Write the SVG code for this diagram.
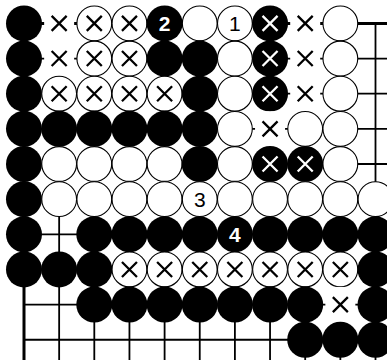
<svg xmlns="http://www.w3.org/2000/svg" xmlns:xlink="http://www.w3.org/1999/xlink" width="387" height="360" viewBox="0 0 387 360">
<style>
.thin{stroke:#000;stroke-width:1.8;fill:none}
.edge{stroke:#000;stroke-width:3;fill:none}
.bs{fill:#000}
.ws{fill:#fff;stroke:#000;stroke-width:1.1}
.es{fill:#fff}
.xb{stroke:#000;stroke-width:2.3;fill:none}
.xw{stroke:#fff;stroke-width:2.3;fill:none}
.nb{font-family:"Liberation Sans",Arial,sans-serif;font-size:21px;fill:#000;text-anchor:middle}
.nw{font-family:"Liberation Sans",Arial,sans-serif;font-size:21px;font-weight:bold;fill:#fff;text-anchor:middle}
</style>
<defs>
<circle id="b" class="bs" r="18"/>
<circle id="w" class="ws" r="17.4"/>
<rect id="e" class="es" x="-15" y="-17.7" width="30" height="35.4"/>
<path id="x" d="M-7.5,-7.5L7.5,7.5M7.5,-7.5L-7.5,7.5"/>
</defs>
<rect width="387" height="360" fill="#fff"/>
<g id="grid">
<path class="thin" d="M24,58.55H387M24,93.7H387M24,128.85H387M24,164H387M24,199.15H387M24,234.3H387M24,269.45H387M24,304.6H387M24,339.75H387"/>
<path class="thin" d="M59.15,23.4V360M94.3,23.4V360M129.45,23.4V360M164.6,23.4V360M199.75,23.4V360M234.9,23.4V360M270.05,23.4V360M305.2,23.4V360M340.35,23.4V360M375.5,23.4V360"/>
<path class="edge" d="M387,23.4H24V360"/>
</g>
<!-- row 0 -->
<g id="r0c0" transform="translate(24,23.4)"><use xlink:href="#b"/></g>
<g id="r0c1" transform="translate(59.15,23.4)"><use xlink:href="#e"/><use xlink:href="#x" class="xb"/></g>
<g id="r0c2" transform="translate(94.3,23.4)"><use xlink:href="#w"/><use xlink:href="#x" class="xb"/></g>
<g id="r0c3" transform="translate(129.45,23.4)"><use xlink:href="#w"/><use xlink:href="#x" class="xb"/></g>
<g id="r0c4" transform="translate(164.6,23.4)"><use xlink:href="#b"/><text class="nw" x="0" y="7.5">2</text></g>
<g id="r0c5" transform="translate(199.75,23.4)"><use xlink:href="#w"/></g>
<g id="r0c6" transform="translate(234.9,23.4)"><use xlink:href="#w"/><text class="nb" x="0" y="7.5">1</text></g>
<g id="r0c7" transform="translate(270.05,23.4)"><use xlink:href="#b"/><use xlink:href="#x" class="xw"/></g>
<g id="r0c8" transform="translate(305.2,23.4)"><use xlink:href="#e"/><use xlink:href="#x" class="xb"/></g>
<g id="r0c9" transform="translate(340.35,23.4)"><use xlink:href="#w"/></g>
<!-- row 1 -->
<g id="r1c0" transform="translate(24,58.55)"><use xlink:href="#b"/></g>
<g id="r1c1" transform="translate(59.15,58.55)"><use xlink:href="#e"/><use xlink:href="#x" class="xb"/></g>
<g id="r1c2" transform="translate(94.3,58.55)"><use xlink:href="#w"/><use xlink:href="#x" class="xb"/></g>
<g id="r1c3" transform="translate(129.45,58.55)"><use xlink:href="#w"/><use xlink:href="#x" class="xb"/></g>
<g id="r1c4" transform="translate(164.6,58.55)"><use xlink:href="#b"/></g>
<g id="r1c5" transform="translate(199.75,58.55)"><use xlink:href="#b"/></g>
<g id="r1c6" transform="translate(234.9,58.55)"><use xlink:href="#w"/></g>
<g id="r1c7" transform="translate(270.05,58.55)"><use xlink:href="#b"/><use xlink:href="#x" class="xw"/></g>
<g id="r1c8" transform="translate(305.2,58.55)"><use xlink:href="#e"/><use xlink:href="#x" class="xb"/></g>
<g id="r1c9" transform="translate(340.35,58.55)"><use xlink:href="#w"/></g>
<!-- row 2 -->
<g id="r2c0" transform="translate(24,93.7)"><use xlink:href="#b"/></g>
<g id="r2c1" transform="translate(59.15,93.7)"><use xlink:href="#w"/><use xlink:href="#x" class="xb"/></g>
<g id="r2c2" transform="translate(94.3,93.7)"><use xlink:href="#w"/><use xlink:href="#x" class="xb"/></g>
<g id="r2c3" transform="translate(129.45,93.7)"><use xlink:href="#w"/><use xlink:href="#x" class="xb"/></g>
<g id="r2c4" transform="translate(164.6,93.7)"><use xlink:href="#w"/><use xlink:href="#x" class="xb"/></g>
<g id="r2c5" transform="translate(199.75,93.7)"><use xlink:href="#b"/></g>
<g id="r2c6" transform="translate(234.9,93.7)"><use xlink:href="#w"/></g>
<g id="r2c7" transform="translate(270.05,93.7)"><use xlink:href="#b"/><use xlink:href="#x" class="xw"/></g>
<g id="r2c8" transform="translate(305.2,93.7)"><use xlink:href="#e"/><use xlink:href="#x" class="xb"/></g>
<g id="r2c9" transform="translate(340.35,93.7)"><use xlink:href="#w"/></g>
<!-- row 3 -->
<g id="r3c0" transform="translate(24,128.85)"><use xlink:href="#b"/></g>
<g id="r3c1" transform="translate(59.15,128.85)"><use xlink:href="#b"/></g>
<g id="r3c2" transform="translate(94.3,128.85)"><use xlink:href="#b"/></g>
<g id="r3c3" transform="translate(129.45,128.85)"><use xlink:href="#b"/></g>
<g id="r3c4" transform="translate(164.6,128.85)"><use xlink:href="#b"/></g>
<g id="r3c5" transform="translate(199.75,128.85)"><use xlink:href="#b"/></g>
<g id="r3c6" transform="translate(234.9,128.85)"><use xlink:href="#w"/></g>
<g id="r3c7" transform="translate(270.05,128.85)"><use xlink:href="#e"/><use xlink:href="#x" class="xb"/></g>
<g id="r3c8" transform="translate(305.2,128.85)"><use xlink:href="#w"/></g>
<g id="r3c9" transform="translate(340.35,128.85)"><use xlink:href="#w"/></g>
<!-- row 4 -->
<g id="r4c0" transform="translate(24,164)"><use xlink:href="#b"/></g>
<g id="r4c1" transform="translate(59.15,164)"><use xlink:href="#w"/></g>
<g id="r4c2" transform="translate(94.3,164)"><use xlink:href="#w"/></g>
<g id="r4c3" transform="translate(129.45,164)"><use xlink:href="#w"/></g>
<g id="r4c4" transform="translate(164.6,164)"><use xlink:href="#w"/></g>
<g id="r4c5" transform="translate(199.75,164)"><use xlink:href="#b"/></g>
<g id="r4c6" transform="translate(234.9,164)"><use xlink:href="#w"/></g>
<g id="r4c7" transform="translate(270.05,164)"><use xlink:href="#b"/><use xlink:href="#x" class="xw"/></g>
<g id="r4c8" transform="translate(305.2,164)"><use xlink:href="#b"/><use xlink:href="#x" class="xw"/></g>
<g id="r4c9" transform="translate(340.35,164)"><use xlink:href="#w"/></g>
<!-- row 5 -->
<g id="r5c0" transform="translate(24,199.15)"><use xlink:href="#b"/></g>
<g id="r5c1" transform="translate(59.15,199.15)"><use xlink:href="#w"/></g>
<g id="r5c2" transform="translate(94.3,199.15)"><use xlink:href="#w"/></g>
<g id="r5c3" transform="translate(129.45,199.15)"><use xlink:href="#w"/></g>
<g id="r5c4" transform="translate(164.6,199.15)"><use xlink:href="#w"/></g>
<g id="r5c5" transform="translate(199.75,199.15)"><use xlink:href="#w"/><text class="nb" x="0" y="7.5">3</text></g>
<g id="r5c6" transform="translate(234.9,199.15)"><use xlink:href="#w"/></g>
<g id="r5c7" transform="translate(270.05,199.15)"><use xlink:href="#w"/></g>
<g id="r5c8" transform="translate(305.2,199.15)"><use xlink:href="#w"/></g>
<g id="r5c9" transform="translate(340.35,199.15)"><use xlink:href="#w"/></g>
<g id="r5c10" transform="translate(375.5,199.15)"><use xlink:href="#w"/></g>
<!-- row 6 -->
<g id="r6c0" transform="translate(24,234.3)"><use xlink:href="#b"/></g>
<g id="r6c2" transform="translate(94.3,234.3)"><use xlink:href="#b"/></g>
<g id="r6c3" transform="translate(129.45,234.3)"><use xlink:href="#b"/></g>
<g id="r6c4" transform="translate(164.6,234.3)"><use xlink:href="#b"/></g>
<g id="r6c5" transform="translate(199.75,234.3)"><use xlink:href="#b"/></g>
<g id="r6c6" transform="translate(234.9,234.3)"><use xlink:href="#b"/><text class="nw" x="0" y="7.5">4</text></g>
<g id="r6c7" transform="translate(270.05,234.3)"><use xlink:href="#b"/></g>
<g id="r6c8" transform="translate(305.2,234.3)"><use xlink:href="#b"/></g>
<g id="r6c9" transform="translate(340.35,234.3)"><use xlink:href="#b"/></g>
<g id="r6c10" transform="translate(375.5,234.3)"><use xlink:href="#b"/></g>
<!-- row 7 -->
<g id="r7c0" transform="translate(24,269.45)"><use xlink:href="#b"/></g>
<g id="r7c1" transform="translate(59.15,269.45)"><use xlink:href="#b"/></g>
<g id="r7c2" transform="translate(94.3,269.45)"><use xlink:href="#b"/></g>
<g id="r7c3" transform="translate(129.45,269.45)"><use xlink:href="#w"/><use xlink:href="#x" class="xb"/></g>
<g id="r7c4" transform="translate(164.6,269.45)"><use xlink:href="#w"/><use xlink:href="#x" class="xb"/></g>
<g id="r7c5" transform="translate(199.75,269.45)"><use xlink:href="#w"/><use xlink:href="#x" class="xb"/></g>
<g id="r7c6" transform="translate(234.9,269.45)"><use xlink:href="#w"/><use xlink:href="#x" class="xb"/></g>
<g id="r7c7" transform="translate(270.05,269.45)"><use xlink:href="#w"/><use xlink:href="#x" class="xb"/></g>
<g id="r7c8" transform="translate(305.2,269.45)"><use xlink:href="#w"/><use xlink:href="#x" class="xb"/></g>
<g id="r7c9" transform="translate(340.35,269.45)"><use xlink:href="#w"/><use xlink:href="#x" class="xb"/></g>
<g id="r7c10" transform="translate(375.5,269.45)"><use xlink:href="#b"/></g>
<!-- row 8 -->
<g id="r8c2" transform="translate(94.3,304.6)"><use xlink:href="#b"/></g>
<g id="r8c3" transform="translate(129.45,304.6)"><use xlink:href="#b"/></g>
<g id="r8c4" transform="translate(164.6,304.6)"><use xlink:href="#b"/></g>
<g id="r8c5" transform="translate(199.75,304.6)"><use xlink:href="#b"/></g>
<g id="r8c6" transform="translate(234.9,304.6)"><use xlink:href="#b"/></g>
<g id="r8c7" transform="translate(270.05,304.6)"><use xlink:href="#b"/></g>
<g id="r8c8" transform="translate(305.2,304.6)"><use xlink:href="#b"/></g>
<g id="r8c9" transform="translate(340.35,304.6)"><use xlink:href="#e"/><use xlink:href="#x" class="xb"/></g>
<g id="r8c10" transform="translate(375.5,304.6)"><use xlink:href="#b"/></g>
<!-- row 9 -->
<g id="r9c8" transform="translate(305.2,339.75)"><use xlink:href="#b"/></g>
<g id="r9c9" transform="translate(340.35,339.75)"><use xlink:href="#b"/></g>
<g id="r9c10" transform="translate(375.5,339.75)"><use xlink:href="#b"/></g>
</svg>
